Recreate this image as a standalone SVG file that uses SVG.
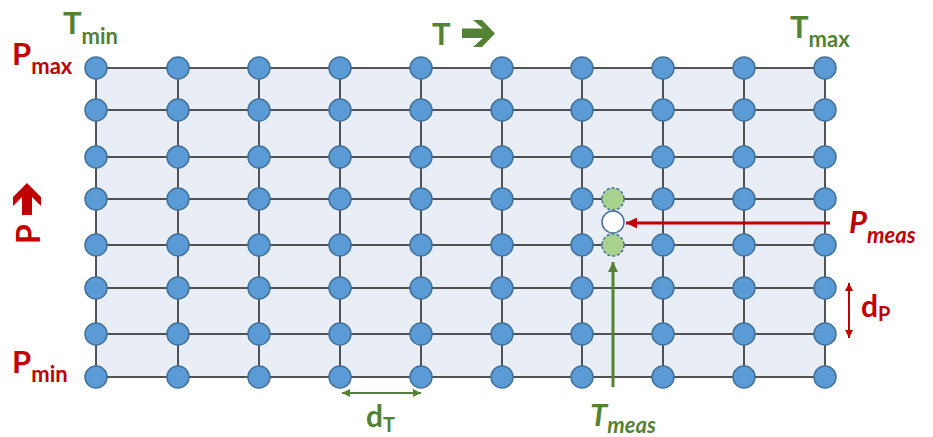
<svg xmlns="http://www.w3.org/2000/svg" width="933" height="437" viewBox="0 0 933 437">
<style>
.grid{stroke:#1e1e1e;stroke-width:1.5;fill:none}
.n{fill:#5B9BD5;stroke:#41719C;stroke-width:1.5}
.gn{fill:#A9D18E;stroke:#41719C;stroke-width:1.5;stroke-dasharray:3 2}
.wn{fill:#ffffff;stroke:#41719C;stroke-width:1.5}
.red{fill:#C00000}
.grn{fill:#548235}
text{font-family:Lato,"Liberation Sans",sans-serif;font-weight:bold}
.it{font-style:italic}
</style>
<defs>
<marker id="ar" viewBox="0 0 10 10" refX="10" refY="5" markerWidth="12" markerHeight="11" markerUnits="userSpaceOnUse" orient="auto-start-reverse"><path d="M0,0 L10,5 L0,10 z" fill="#C00000"/></marker>
<marker id="ag" viewBox="0 0 10 10" refX="10" refY="5" markerWidth="11" markerHeight="10" markerUnits="userSpaceOnUse" orient="auto-start-reverse"><path d="M0,0 L10,5 L0,10 z" fill="#548235"/></marker>
<marker id="ars" viewBox="0 0 10 10" refX="10" refY="5" markerWidth="8" markerHeight="8" markerUnits="userSpaceOnUse" orient="auto-start-reverse"><path d="M0,0 L10,5 L0,10 z" fill="#C00000"/></marker>
<marker id="ags" viewBox="0 0 10 10" refX="10" refY="5" markerWidth="8" markerHeight="8" markerUnits="userSpaceOnUse" orient="auto-start-reverse"><path d="M0,0 L10,5 L0,10 z" fill="#548235"/></marker>
</defs>
<rect x="96" y="68" width="729" height="309" fill="#E9EDF6"/>
<g id="grid" class="grid">
<path d="M96,68H825M96,110H825M96,157H825M96,199H825M96,245H825M96,288H825M96,334H825M96,377H825"/>
<path d="M96,68V377M178,68V377M259,68V377M340,68V377M421,68V377M502,68V377M582,68V377M663,68V377M744,68V377M825,68V377"/>
</g>
<g id="connectors">
<line x1="830" y1="223" x2="626" y2="223" stroke="#C00000" stroke-width="3" marker-end="url(#ar)"/>
<line x1="613" y1="387" x2="613" y2="262" stroke="#548235" stroke-width="3" marker-end="url(#ag)"/>
<line x1="849" y1="283" x2="849" y2="338" stroke="#C00000" stroke-width="2" marker-start="url(#ars)" marker-end="url(#ars)"/>
<line x1="342" y1="393" x2="421" y2="393" stroke="#548235" stroke-width="2" marker-start="url(#ags)" marker-end="url(#ags)"/>
</g>
<g id="nodes">
<g id="n-1-1"><circle class="n" cx="96" cy="68" r="11"/></g>
<g id="n-1-2"><circle class="n" cx="178" cy="68" r="11"/></g>
<g id="n-1-3"><circle class="n" cx="259" cy="68" r="11"/></g>
<g id="n-1-4"><circle class="n" cx="340" cy="68" r="11"/></g>
<g id="n-1-5"><circle class="n" cx="421" cy="68" r="11"/></g>
<g id="n-1-6"><circle class="n" cx="502" cy="68" r="11"/></g>
<g id="n-1-7"><circle class="n" cx="582" cy="68" r="11"/></g>
<g id="n-1-8"><circle class="n" cx="663" cy="68" r="11"/></g>
<g id="n-1-9"><circle class="n" cx="744" cy="68" r="11"/></g>
<g id="n-1-10"><circle class="n" cx="825" cy="68" r="11"/></g>
<g id="n-2-1"><circle class="n" cx="96" cy="110" r="11"/></g>
<g id="n-2-2"><circle class="n" cx="178" cy="110" r="11"/></g>
<g id="n-2-3"><circle class="n" cx="259" cy="110" r="11"/></g>
<g id="n-2-4"><circle class="n" cx="340" cy="110" r="11"/></g>
<g id="n-2-5"><circle class="n" cx="421" cy="110" r="11"/></g>
<g id="n-2-6"><circle class="n" cx="502" cy="110" r="11"/></g>
<g id="n-2-7"><circle class="n" cx="582" cy="110" r="11"/></g>
<g id="n-2-8"><circle class="n" cx="663" cy="110" r="11"/></g>
<g id="n-2-9"><circle class="n" cx="744" cy="110" r="11"/></g>
<g id="n-2-10"><circle class="n" cx="825" cy="110" r="11"/></g>
<g id="n-3-1"><circle class="n" cx="96" cy="157" r="11"/></g>
<g id="n-3-2"><circle class="n" cx="178" cy="157" r="11"/></g>
<g id="n-3-3"><circle class="n" cx="259" cy="157" r="11"/></g>
<g id="n-3-4"><circle class="n" cx="340" cy="157" r="11"/></g>
<g id="n-3-5"><circle class="n" cx="421" cy="157" r="11"/></g>
<g id="n-3-6"><circle class="n" cx="502" cy="157" r="11"/></g>
<g id="n-3-7"><circle class="n" cx="582" cy="157" r="11"/></g>
<g id="n-3-8"><circle class="n" cx="663" cy="157" r="11"/></g>
<g id="n-3-9"><circle class="n" cx="744" cy="157" r="11"/></g>
<g id="n-3-10"><circle class="n" cx="825" cy="157" r="11"/></g>
<g id="n-4-1"><circle class="n" cx="96" cy="199" r="11"/></g>
<g id="n-4-2"><circle class="n" cx="178" cy="199" r="11"/></g>
<g id="n-4-3"><circle class="n" cx="259" cy="199" r="11"/></g>
<g id="n-4-4"><circle class="n" cx="340" cy="199" r="11"/></g>
<g id="n-4-5"><circle class="n" cx="421" cy="199" r="11"/></g>
<g id="n-4-6"><circle class="n" cx="502" cy="199" r="11"/></g>
<g id="n-4-7"><circle class="n" cx="582" cy="199" r="11"/></g>
<g id="n-4-8"><circle class="n" cx="663" cy="199" r="11"/></g>
<g id="n-4-9"><circle class="n" cx="744" cy="199" r="11"/></g>
<g id="n-4-10"><circle class="n" cx="825" cy="199" r="11"/></g>
<g id="n-5-1"><circle class="n" cx="96" cy="245" r="11"/></g>
<g id="n-5-2"><circle class="n" cx="178" cy="245" r="11"/></g>
<g id="n-5-3"><circle class="n" cx="259" cy="245" r="11"/></g>
<g id="n-5-4"><circle class="n" cx="340" cy="245" r="11"/></g>
<g id="n-5-5"><circle class="n" cx="421" cy="245" r="11"/></g>
<g id="n-5-6"><circle class="n" cx="502" cy="245" r="11"/></g>
<g id="n-5-7"><circle class="n" cx="582" cy="245" r="11"/></g>
<g id="n-5-8"><circle class="n" cx="663" cy="245" r="11"/></g>
<g id="n-5-9"><circle class="n" cx="744" cy="245" r="11"/></g>
<g id="n-5-10"><circle class="n" cx="825" cy="245" r="11"/></g>
<g id="n-6-1"><circle class="n" cx="96" cy="288" r="11"/></g>
<g id="n-6-2"><circle class="n" cx="178" cy="288" r="11"/></g>
<g id="n-6-3"><circle class="n" cx="259" cy="288" r="11"/></g>
<g id="n-6-4"><circle class="n" cx="340" cy="288" r="11"/></g>
<g id="n-6-5"><circle class="n" cx="421" cy="288" r="11"/></g>
<g id="n-6-6"><circle class="n" cx="502" cy="288" r="11"/></g>
<g id="n-6-7"><circle class="n" cx="582" cy="288" r="11"/></g>
<g id="n-6-8"><circle class="n" cx="663" cy="288" r="11"/></g>
<g id="n-6-9"><circle class="n" cx="744" cy="288" r="11"/></g>
<g id="n-6-10"><circle class="n" cx="825" cy="288" r="11"/></g>
<g id="n-7-1"><circle class="n" cx="96" cy="334" r="11"/></g>
<g id="n-7-2"><circle class="n" cx="178" cy="334" r="11"/></g>
<g id="n-7-3"><circle class="n" cx="259" cy="334" r="11"/></g>
<g id="n-7-4"><circle class="n" cx="340" cy="334" r="11"/></g>
<g id="n-7-5"><circle class="n" cx="421" cy="334" r="11"/></g>
<g id="n-7-6"><circle class="n" cx="502" cy="334" r="11"/></g>
<g id="n-7-7"><circle class="n" cx="582" cy="334" r="11"/></g>
<g id="n-7-8"><circle class="n" cx="663" cy="334" r="11"/></g>
<g id="n-7-9"><circle class="n" cx="744" cy="334" r="11"/></g>
<g id="n-7-10"><circle class="n" cx="825" cy="334" r="11"/></g>
<g id="n-8-1"><circle class="n" cx="96" cy="377" r="11"/></g>
<g id="n-8-2"><circle class="n" cx="178" cy="377" r="11"/></g>
<g id="n-8-3"><circle class="n" cx="259" cy="377" r="11"/></g>
<g id="n-8-4"><circle class="n" cx="340" cy="377" r="11"/></g>
<g id="n-8-5"><circle class="n" cx="421" cy="377" r="11"/></g>
<g id="n-8-6"><circle class="n" cx="502" cy="377" r="11"/></g>
<g id="n-8-7"><circle class="n" cx="582" cy="377" r="11"/></g>
<g id="n-8-8"><circle class="n" cx="663" cy="377" r="11"/></g>
<g id="n-8-9"><circle class="n" cx="744" cy="377" r="11"/></g>
<g id="n-8-10"><circle class="n" cx="825" cy="377" r="11"/></g>
<g id="interp-upper"><circle class="gn" cx="613" cy="199" r="11"/></g>
<g id="measured"><circle class="wn" cx="613" cy="222" r="11"/></g>
<g id="interp-lower"><circle class="gn" cx="613" cy="245" r="11"/></g>
</g>
<g id="labels">
<text class="grn" x="63" y="34" font-size="31">T<tspan font-size="22" dy="10">min</tspan></text>
<text class="red" x="12" y="65" font-size="31">P<tspan font-size="22" dy="9">max</tspan></text>
<text class="grn" x="790" y="38" font-size="31">T<tspan font-size="22" dy="9">max</tspan></text>
<text class="red" x="12" y="373" font-size="31">P<tspan font-size="22" dy="9">min</tspan></text>
<text class="grn" x="432" y="45" font-size="31">T</text>
<polygon class="grn" points="462,28.5 483,28.5 473,20 482,20 495,33.5 482,47 473,47 483,38 462,38"/>
<text class="red" transform="translate(40,244) rotate(-90)" font-size="32">P</text>
<polygon class="red" points="22,215 22,197 13,206 13,197 27,183 41,197 41,206 32,197 32,215"/>
<text class="red it" x="849" y="233" font-size="31">P<tspan font-size="22" dy="10">meas</tspan></text>
<text class="red" x="861" y="317" font-size="30">d<tspan font-size="20" dy="4">P</tspan></text>
<text class="grn" x="366" y="427" font-size="30">d<tspan font-size="20" dy="5">T</tspan></text>
<text class="grn it" x="590" y="426" font-size="31">T<tspan font-size="22" dy="7">meas</tspan></text>
</g>
</svg>
